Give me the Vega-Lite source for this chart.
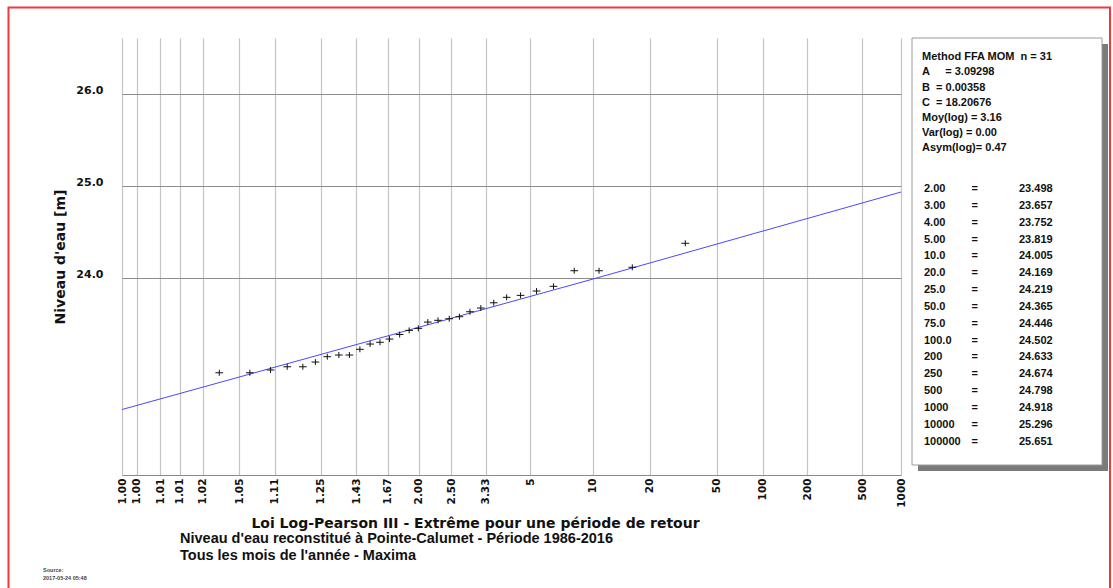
{
  "$schema": "https://vega.github.io/schema/vega-lite/v6.json",
  "width": 779,
  "height": 437,
  "autosize": {"type": "none"},
  "padding": {"left": 122, "top": 38, "right": 212, "bottom": 113},
  "background": "white",
  "config": {"view": {"stroke": null}, "font": "DejaVu Sans"},
  "resolve": {"scale": {"x": "independent", "y": "independent"}},
  "layer": [
    {
      "layer": [
        {
          "data": {"values": [
            {"position": 22.6216, "niveau": 22.580},
            {"position": 24.0082, "niveau": 23.993},
            {"position": 24.915, "niveau": 24.935}
          ]},
          "mark": {"type": "line", "color": "#4848ff", "strokeWidth": 1, "clip": true},
          "encoding": {
            "x": {
              "field": "position", "type": "quantitative",
              "scale": {"domain": [22.6216, 24.915], "nice": false, "zero": false},
              "axis": {
                "orient": "bottom",
                "values": [22.6216,22.6649,22.7344,22.7915,22.8592,22.9669,23.0712,23.2066,23.3114,23.4047,23.4951,23.5902,23.6932,23.8228,24.0082,24.176,24.3721,24.5087,24.6383,24.8002,24.915],
                "tickCount": 60,
                "labelExpr": "['1.00','1.00','1.01','1.01','1.02','1.05','1.11','1.25','1.43','1.67','2.00','2.50','3.33','5','10','20','50','100','200','500','1000'][indexof([22.6216,22.6649,22.7344,22.7915,22.8592,22.9669,23.0712,23.2066,23.3114,23.4047,23.4951,23.5902,23.6932,23.8228,24.0082,24.176,24.3721,24.5087,24.6383,24.8002,24.915], datum.value)]",
                "labelAngle": 270,
                "labelAlign": "right",
                "labelBaseline": "middle",
                "labelPadding": 3,
                "labelFont": "DejaVu Sans",
                "labelFontSize": 10.5,
                "labelFontWeight": "bold",
                "labelColor": "#111111",
                "labelOverlap": false,
                "labelFlush": false,
                "labelBound": false,
                "grid": true,
                "gridColor": "#c4c4c4",
                "gridWidth": 1.2,
                "ticks": false,
                "domain": true,
                "domainColor": "#8a8a8a",
                "title": "Loi Log-Pearson III - Extrême pour une période de retour",
                "titleFont": "DejaVu Sans",
                "titleFontSize": 14,
                "titleFontWeight": "bold",
                "titleColor": "#111111",
                "titleX": 353,
                "titleY": 48.5,
                "titleAlign": "center",
                "titleBaseline": "middle"
              }
            },
            "y": {
              "field": "niveau", "type": "quantitative",
              "scale": {"domain": [21.871, 26.603], "nice": false, "zero": false},
              "axis": {
                "orient": "left",
                "values": [24, 25, 26],
                "tickCount": 20,
                "format": ".1f",
                "grid": true,
                "gridColor": "#8c8c8c",
                "gridWidth": 1,
                "domain": false,
                "ticks": false,
                "labelPadding": 19,
                "labelOffset": -3.5,
                "labelFont": "DejaVu Sans",
                "labelFontSize": 11,
                "labelFontWeight": "bold",
                "labelColor": "#111111",
                "title": "Niveau d'eau [m]",
                "titleFont": "DejaVu Sans",
                "titleFontSize": 14,
                "titleFontWeight": "bold",
                "titleColor": "#111111",
                "titleAngle": 270,
                "titleX": -62,
                "titleY": 218.5,
                "titleAlign": "center",
                "titleBaseline": "middle"
              }
            }
          }
        },
        {
          "data": {"values": [
            {"position": 22.908, "niveau": 22.978},
            {"position": 22.998, "niveau": 22.978},
            {"position": 23.059, "niveau": 23.008},
            {"position": 23.108, "niveau": 23.043},
            {"position": 23.154, "niveau": 23.043},
            {"position": 23.191, "niveau": 23.094},
            {"position": 23.226, "niveau": 23.152},
            {"position": 23.260, "niveau": 23.170},
            {"position": 23.291, "niveau": 23.170},
            {"position": 23.322, "niveau": 23.232},
            {"position": 23.352, "niveau": 23.289},
            {"position": 23.381, "niveau": 23.308},
            {"position": 23.409, "niveau": 23.343},
            {"position": 23.439, "niveau": 23.392},
            {"position": 23.467, "niveau": 23.437},
            {"position": 23.494, "niveau": 23.459},
            {"position": 23.522, "niveau": 23.527},
            {"position": 23.552, "niveau": 23.546},
            {"position": 23.585, "niveau": 23.563},
            {"position": 23.615, "niveau": 23.585},
            {"position": 23.646, "niveau": 23.639},
            {"position": 23.678, "niveau": 23.679},
            {"position": 23.716, "niveau": 23.736},
            {"position": 23.754, "niveau": 23.795},
            {"position": 23.795, "niveau": 23.816},
            {"position": 23.842, "niveau": 23.863},
            {"position": 23.892, "niveau": 23.914},
            {"position": 23.953, "niveau": 24.083},
            {"position": 24.026, "niveau": 24.083},
            {"position": 24.124, "niveau": 24.120},
            {"position": 24.280, "niveau": 24.380}
          ]},
          "mark": {"type": "point", "shape": "M-1.1,0L1.1,0M0,-0.85L0,0.85", "size": 49, "filled": false, "stroke": "#111111", "strokeWidth": 1, "opacity": 1},
          "encoding": {
            "x": {"field": "position", "type": "quantitative", "scale": {"domain": [22.6216, 24.915], "nice": false, "zero": false}},
            "y": {"field": "niveau", "type": "quantitative", "scale": {"domain": [21.871, 26.603], "nice": false, "zero": false}}
          }
        }
      ]
    },
    {
      "data": {"values": [{}]},
      "mark": {"type": "rect", "filled": false, "stroke": "#ee3a3a", "strokeWidth": 2},
      "encoding": {
        "x": {"datum": 0, "type": "quantitative", "scale": {"domain": [0, 1], "range": [-113.5, 988]}, "axis": null},
        "x2": {"datum": 1},
        "y": {"datum": 0, "type": "quantitative", "scale": {"domain": [0, 1], "range": [-30.5, 560]}, "axis": null},
        "y2": {"datum": 1}
      }
    },
    {
      "data": {"values": [{}]},
      "mark": {"type": "rect", "fill": "#7a7a7a"},
      "encoding": {
        "x": {"datum": 0, "type": "quantitative", "scale": {"domain": [0, 1], "range": [796, 986]}, "axis": null},
        "x2": {"datum": 1},
        "y": {"datum": 0, "type": "quantitative", "scale": {"domain": [0, 1], "range": [6, 433]}, "axis": null},
        "y2": {"datum": 1}
      }
    },
    {
      "data": {"values": [{}]},
      "mark": {"type": "rect", "fill": "white", "stroke": "#9a9a9a", "strokeWidth": 1},
      "encoding": {
        "x": {"datum": 0, "type": "quantitative", "scale": {"domain": [0, 1], "range": [790, 980]}, "axis": null},
        "x2": {"datum": 1},
        "y": {"datum": 0, "type": "quantitative", "scale": {"domain": [0, 1], "range": [0, 427]}, "axis": null},
        "y2": {"datum": 1}
      }
    },
    {
      "data": {"values": [
        {"ligne": "Method FFA MOM\u00a0\u00a0n = 31"},
        {"ligne": "A\u00a0\u00a0\u00a0\u00a0\u00a0= 3.09298"},
        {"ligne": "B\u00a0\u00a0= 0.00358"},
        {"ligne": "C\u00a0\u00a0= 18.20676"},
        {"ligne": "Moy(log) = 3.16"},
        {"ligne": "Var(log) = 0.00"},
        {"ligne": "Asym(log)= 0.47"}
      ]},
      "mark": {"type": "text", "align": "left", "baseline": "middle", "font": "Liberation Sans", "fontSize": 11, "fontWeight": "bold", "color": "#111111"},
      "encoding": {
        "x": {"datum": 0, "type": "quantitative", "scale": {"domain": [0, 1], "range": [800, 900]}, "axis": null},
        "y": {"field": "ligne", "type": "ordinal", "sort": null, "scale": {"type": "point", "range": [19.3, 110.3], "padding": 0}, "axis": null},
        "text": {"field": "ligne"}
      }
    },
    {
      "data": {"values": [
        {"T": "2.00", "valeur": 23.498},
        {"T": "3.00", "valeur": 23.657},
        {"T": "4.00", "valeur": 23.752},
        {"T": "5.00", "valeur": 23.819},
        {"T": "10.0", "valeur": 24.005},
        {"T": "20.0", "valeur": 24.169},
        {"T": "25.0", "valeur": 24.219},
        {"T": "50.0", "valeur": 24.365},
        {"T": "75.0", "valeur": 24.446},
        {"T": "100.0", "valeur": 24.502},
        {"T": "200", "valeur": 24.633},
        {"T": "250", "valeur": 24.674},
        {"T": "500", "valeur": 24.798},
        {"T": "1000", "valeur": 24.918},
        {"T": "10000", "valeur": 25.296},
        {"T": "100000", "valeur": 25.651}
      ]},
      "encoding": {
        "y": {"field": "T", "type": "ordinal", "sort": null, "scale": {"type": "point", "range": [151, 403.7], "padding": 0}, "axis": null}
      },
      "layer": [
        {
          "mark": {"type": "text", "align": "left", "baseline": "middle", "font": "Liberation Sans", "fontSize": 11, "fontWeight": "bold", "color": "#111111"},
          "encoding": {
            "x": {"datum": 0, "type": "quantitative", "scale": {"domain": [0, 1], "range": [802, 897]}, "axis": null},
            "text": {"field": "T"}
          }
        },
        {
          "mark": {"type": "text", "align": "left", "baseline": "middle", "font": "Liberation Sans", "fontSize": 11, "fontWeight": "bold", "color": "#111111"},
          "encoding": {
            "x": {"datum": 0.5, "type": "quantitative"},
            "text": {"value": "="}
          }
        },
        {
          "mark": {"type": "text", "align": "left", "baseline": "middle", "font": "Liberation Sans", "fontSize": 11, "fontWeight": "bold", "color": "#111111"},
          "encoding": {
            "x": {"datum": 1, "type": "quantitative"},
            "text": {"field": "valeur", "type": "quantitative", "format": ".3f"}
          }
        }
      ]
    },
    {
      "data": {"values": [
        {"titre": "Niveau d'eau reconstitué à Pointe-Calumet - Période 1986-2016"},
        {"titre": "Tous les mois de l'année - Maxima"}
      ]},
      "mark": {"type": "text", "align": "left", "baseline": "middle", "font": "Liberation Sans", "fontSize": 14.5, "fontWeight": "bold", "color": "#111111"},
      "encoding": {
        "x": {"datum": 0, "type": "quantitative", "scale": {"domain": [0, 1], "range": [58, 100]}, "axis": null},
        "y": {"field": "titre", "type": "ordinal", "sort": null, "scale": {"type": "point", "range": [500.5, 517.5], "padding": 0}, "axis": null},
        "text": {"field": "titre"}
      }
    },
    {
      "data": {"values": [
        {"source": "Source:"},
        {"source": "2017-05-24 05:48"}
      ]},
      "mark": {"type": "text", "align": "left", "baseline": "middle", "font": "Liberation Sans", "fontSize": 5.5, "fontWeight": "bold", "color": "#444444"},
      "encoding": {
        "x": {"datum": 0, "type": "quantitative", "scale": {"domain": [0, 1], "range": [-79, 0]}, "axis": null},
        "y": {"field": "source", "type": "ordinal", "sort": null, "scale": {"type": "point", "range": [532, 540], "padding": 0}, "axis": null},
        "text": {"field": "source"}
      }
    }
  ]
}
